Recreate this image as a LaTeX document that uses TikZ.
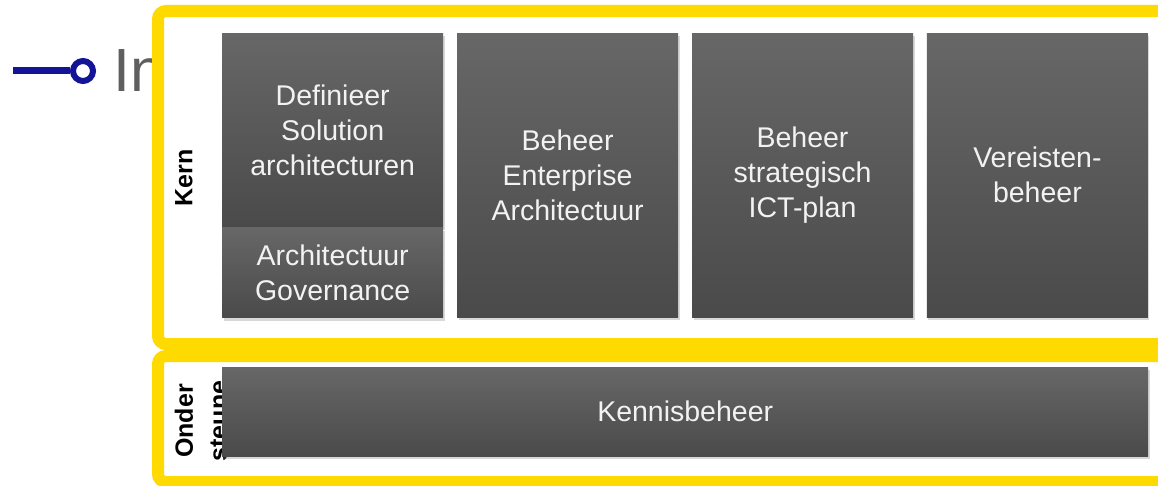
\documentclass[tikz,border=0pt]{standalone}
\usepackage{fontspec}
\setmainfont{Liberation Sans}
\usetikzlibrary{positioning,shadows}
\definecolor{kaderyellow}{RGB}{255,218,0}
\definecolor{boxtop}{RGB}{103,103,103}
\definecolor{boxbottom}{RGB}{74,74,74}
\definecolor{introgray}{RGB}{95,95,95}
\definecolor{bulletblue}{RGB}{20,20,150}

\begin{document}
\begin{tikzpicture}[x=1pt, y=-1pt,
  kader/.style={draw=kaderyellow, line width=12pt, fill=white, rounded corners=8pt},
  procbox/.style={inner sep=0pt, align=center, text=white!95!black, top color=boxtop, bottom color=boxbottom,
    font=\fontsize{28.5}{35}\selectfont, drop shadow={shadow xshift=1.5pt, shadow yshift=-3pt, opacity=0.3}},
  laaglabel/.style={rotate=90, align=center, font=\bfseries\fontsize{25}{34}\selectfont}]

\clip (0,0) rectangle (1158,486);

% titel achter het kader
\coordinate (bulletstart) at (13,71);
\node[circle, draw=bulletblue, line width=6pt, minimum size=20pt, inner sep=0pt] (bullet) at (83,71) {};
\draw[bulletblue, line width=7pt] (bulletstart) -- (bullet.west);
\node[anchor=base west, text=introgray, font=\fontsize{61}{70}\selectfont, inner sep=0pt] (intro) at (113,92) {In};

% kaders
\draw[kader] (158,11) rectangle (1185,344);
\draw[kader] (158,356) rectangle (1185,482);

% kern
\node[laaglabel] (kern) at (184,178) {Kern};
\node[procbox, minimum width=221pt, minimum height=194pt, anchor=north west] (definieer) at (222,33) {Definieer\\Solution\\architecturen};
\node[procbox, minimum width=221pt, minimum height=90pt, below=0pt of definieer] (governance) {Architectuur\\Governance};
\node[procbox, minimum width=221pt, minimum height=284pt, right=13.5pt of definieer.north east, anchor=north west] (enterprise) {Beheer\\Enterprise\\Architectuur};
\node[procbox, minimum width=221pt, minimum height=284pt, right=13.5pt of enterprise.north east, anchor=north west] (ictplan) {Beheer\\strategisch\\ICT-plan};
\node[procbox, minimum width=221pt, minimum height=284pt, right=13.5pt of ictplan.north east, anchor=north west] (vereisten) {Vereisten-\\beheer};

% ondersteunend
\node[laaglabel] (onder) at (201,421) {Onder\\steune};
\node[procbox, minimum width=926pt, minimum height=89pt, anchor=north west] (kennis) at (222,367) {Kennisbeheer};

\end{tikzpicture}
\end{document}
